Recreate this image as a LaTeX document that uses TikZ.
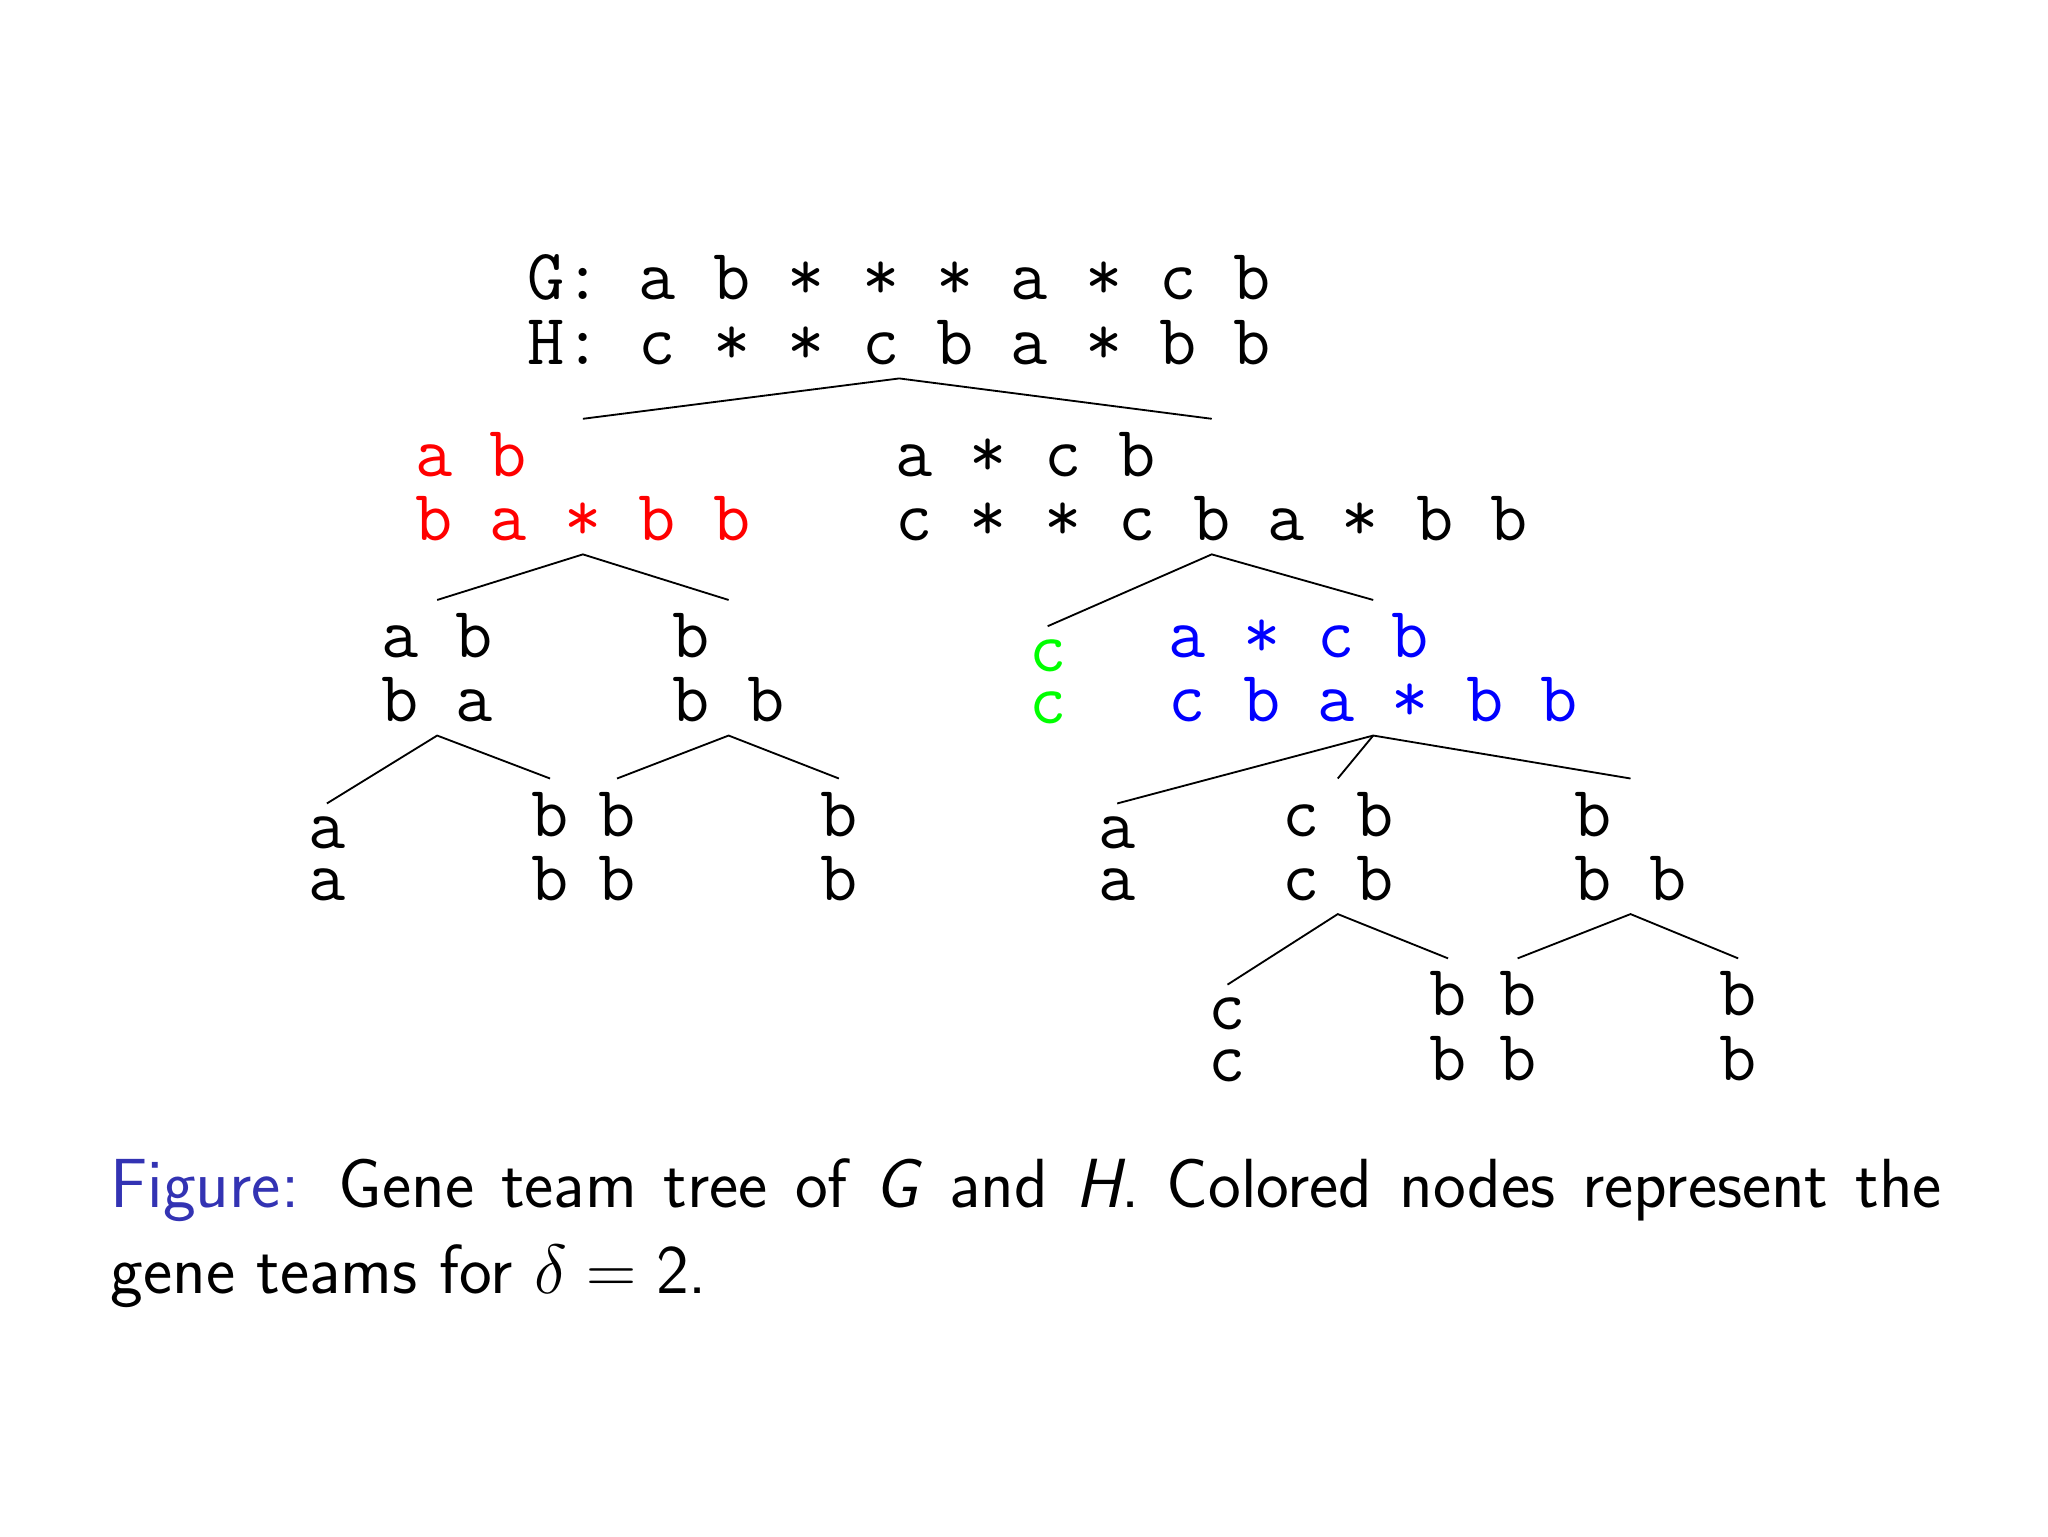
\RequirePackage{fix-cm}
\documentclass[tikz,border=0pt]{standalone}
\usepackage{fontspec}
\definecolor{figblue}{RGB}{51,51,179}
\definecolor{pgreen}{RGB}{0,255,0}
\newcommand\gtpair[2]{\vbox{\baselineskip=-1000pt\lineskip=15pt\lineskiplimit=0pt\hbox{#1}\hbox{#2}}}
\begin{document}
\begin{tikzpicture}[x=1pt,y=-1pt,
  tn/.style={font=\ttfamily\fontsize{55}{60}\selectfont, inner xsep=0pt, inner ysep=10pt, anchor=north},
  edge/.style={draw=black, line width=1.4pt},
  captext/.style={font=\sffamily\fontsize{53}{63}\selectfont, inner sep=0pt, anchor=base west}]
\useasboundingbox (0,0) rectangle (1560,1170);
% root
\node[tn] (root) at (685,184) {\gtpair{G: a b * * * a * c b}{H: c * * c b a * b b}};
% level 1
\node[tn, text=red] (red) at (444,319) {\gtpair{a b}{b a * b b}};
\node[tn] (mid) at (923,319) {\gtpair{a * c b}{c * * c b a * b b}};
% level 2
\node[tn] (ab) at (333,457) {\gtpair{a b}{b a}};
\node[tn] (bbb) at (555,457) {\gtpair{b}{b b}};
\node[tn, text=pgreen] (grn) at (798,477) {\gtpair{c}{c}};
\node[tn, text=blue] (blu) at (1046,457) {\gtpair{a * c b}{c b a * b b}};
% level 3 left
\node[tn] (la) at (249,612) {\gtpair{a}{a}};
\node[tn] (lb1) at (419,593) {\gtpair{b}{b}};
\node[tn] (lb2) at (470,593) {\gtpair{b}{b}};
\node[tn] (lb3) at (639,593) {\gtpair{b}{b}};
% level 3 right
\node[tn] (ra) at (851,612) {\gtpair{a}{a}};
\node[tn] (rcb) at (1019,593) {\gtpair{c b}{c b}};
\node[tn] (rbbb) at (1242,593) {\gtpair{b}{b b}};
% level 4
\node[tn] (cc) at (935,750) {\gtpair{c}{c}};
\node[tn] (rb1) at (1103,730) {\gtpair{b}{b}};
\node[tn] (rb2) at (1156,730) {\gtpair{b}{b}};
\node[tn] (rb3) at (1324,730) {\gtpair{b}{b}};
% edges
\draw[edge] (red.north) -- (root.south) -- (mid.north);
\draw[edge] (ab.north) -- (red.south) -- (bbb.north);
\draw[edge] (grn.north) -- (mid.south) -- (blu.north);
\draw[edge] (la.north) -- (ab.south) -- (lb1.north);
\draw[edge] (lb2.north) -- (bbb.south) -- (lb3.north);
\draw[edge] (ra.north) -- (blu.south) -- (rbbb.north);
\draw[edge] (blu.south) -- (rcb.north);
\draw[edge] (cc.north) -- (rcb.south) -- (rb1.north);
\draw[edge] (rb2.north) -- (rbbb.south) -- (rb3.north);
% caption
\node[captext] (cap1) at (84,920) {\makebox[1395pt][s]{\textcolor{figblue}{Figure:} Gene team tree of \textit{G} and \textit{H}. Colored nodes represent the}};
\node[captext] (cap2) at (84,985) {gene teams for $\delta = \mbox{2}$.};
\end{tikzpicture}
\end{document}
